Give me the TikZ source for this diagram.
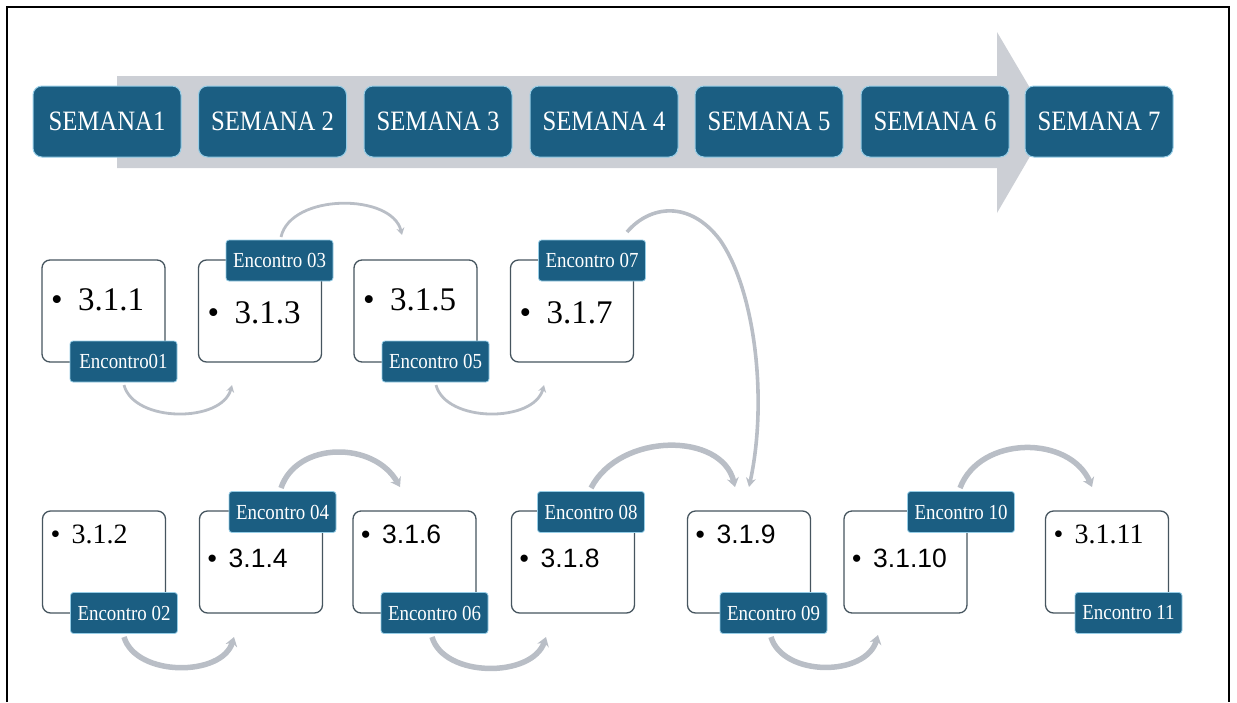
\documentclass[tikz,border=0pt]{standalone}
\usepackage{graphicx}
\usepackage{fontspec}
\setmainfont{Liberation Serif}
\setsansfont{Liberation Sans}
\usetikzlibrary{arrows.meta}
\definecolor{wkblue}{RGB}{27,94,130}
\definecolor{wkedge}{RGB}{150,205,230}
\definecolor{bandgray}{RGB}{204,207,213}
\definecolor{arcgray}{RGB}{185,190,198}
\definecolor{boxedge}{RGB}{70,85,95}
\newcommand{\tall}[1]{\scalebox{0.97}[1.1]{#1}}
\tikzset{
  week/.style={draw=wkedge, line width=1pt, fill=wkblue, rounded corners=9pt,
    minimum width=148pt, minimum height=71pt, inner sep=0pt, text=white,
    font=\fontsize{25.5}{30}\selectfont},
  topic/.style={draw=boxedge, line width=1.3pt, fill=white, rounded corners=8pt,
    minimum width=123pt, minimum height=102pt, inner sep=0pt},
  meet/.style={draw=wkedge, line width=0.8pt, fill=wkblue, rounded corners=3pt,
    minimum width=107pt, minimum height=41pt, inner sep=0pt, text=white,
    font=\fontsize{19.5}{22}\selectfont},
  bigitem/.style={anchor=base west, inner sep=0pt, font=\fontsize{33}{36}\selectfont},
  smallserif/.style={anchor=base west, inner sep=0pt, font=\fontsize{28}{32}\selectfont},
  smallsans/.style={anchor=base west, inner sep=0pt, font=\sffamily\fontsize{26.5}{30}\selectfont},
  thinarc/.style={draw=arcgray, line width=2.8pt, -{Stealth[length=7pt,width=8pt]}},
  midarc/.style={draw=arcgray, line width=3.6pt, -{Stealth[length=9pt,width=10pt]}},
  thickarc/.style={draw=arcgray, line width=5.5pt, -{Stealth[length=9pt,width=12pt]}},
}
\newcommand{\bigbul}[1]{\makebox[27pt][l]{•}#1}
\newcommand{\smallbul}[1]{\makebox[21pt][l]{•}#1}
\begin{document}
\begin{tikzpicture}[x=1pt,y=-1pt]
\useasboundingbox (0,0) rectangle (1237,702);
% frame
\draw[line width=1.2pt] (7,702) -- (7,7) -- (1229,7) -- (1229,702);
% big timeline arrow
\fill[bandgray] (117,76) -- (997,76) -- (997,32) -- (1050,122) -- (997,213)
  -- (997,168) -- (117,168) -- cycle;
% week boxes
\node[week] (w1) at (107,121.5) {\tall{SEMANA1}};
\node[week] (w2) at (272.5,121.5) {\tall{SEMANA 2}};
\node[week] (w3) at (438,121.5) {\tall{SEMANA 3}};
\node[week] (w4) at (604,121.5) {\tall{SEMANA 4}};
\node[week] (w5) at (769,121.5) {\tall{SEMANA 5}};
\node[week] (w6) at (935,121.5) {\tall{SEMANA 6}};
\node[week] (w7) at (1099,121.5) {\tall{SEMANA 7}};
% arc end points
\coordinate (aAs) at (124,385);  \coordinate (aAe) at (232,385);
\coordinate (aBs) at (281,237);  \coordinate (aBe) at (402,235);
\coordinate (aCs) at (436,385);  \coordinate (aCe) at (544,385);
\coordinate (aDs) at (627,232);  \coordinate (aDm) at (720,240); \coordinate (aDe) at (749,487);
\coordinate (aEs) at (124,637);  \coordinate (aEe) at (234,637);
\coordinate (aFs) at (281,488);  \coordinate (aFe) at (400,487);
\coordinate (aGs) at (432,637);  \coordinate (aGe) at (546,637);
\coordinate (aHs) at (591,488);  \coordinate (aHe) at (735,487);
\coordinate (aIs) at (771,637);  \coordinate (aIe) at (878,635);
\coordinate (aJs) at (960,488);  \coordinate (aJe) at (1092,487);
% arcs
\draw[thinarc] (aAs) .. controls (134,423) and (222,423) .. (aAe);
\draw[thinarc] (aBs) .. controls (291,193) and (392,193) .. (aBe);
\draw[thinarc] (aCs) .. controls (446,423) and (534,423) .. (aCe);
\draw[midarc] (aDs) .. controls (650,205) and (690,200) .. (aDm)
  .. controls (755,290) and (768,400) .. (aDe);
\draw[thickarc] (aEs) .. controls (136,677) and (222,677) .. (aEe);
\draw[thickarc] (aFs) .. controls (297,441) and (374,441) .. (aFe);
\draw[thickarc] (aGs) .. controls (444,678) and (532,678) .. (aGe);
\draw[thickarc] (aHs) .. controls (620,432) and (722,432) .. (aHe);
\draw[thickarc] (aIs) .. controls (783,677) and (866,677) .. (aIe);
\draw[thickarc] (aJs) .. controls (980,435) and (1070,435) .. (aJe);
% topic boxes
\node[topic] (b1) at (103.5,311) {};
\node[topic] (b3) at (260,311) {};
\node[topic] (b5) at (415.5,311) {};
\node[topic] (b7) at (572,311) {};
\node[topic] (b2) at (104,562) {};
\node[topic] (b4) at (261,562) {};
\node[topic] (b6) at (414.5,562) {};
\node[topic] (b8) at (573,562) {};
\node[topic] (b9) at (749,562) {};
\node[topic] (b10) at (905.5,562) {};
\node[topic] (b11) at (1107,562) {};
% topic texts
\node[bigitem] (t1) at (51,310) {\bigbul{3.1.1}};
\node[bigitem] (t3) at (207.5,323) {\bigbul{3.1.3}};
\node[bigitem] (t5) at (363,310) {\bigbul{3.1.5}};
\node[bigitem] (t7) at (519.5,323) {\bigbul{3.1.7}};
\node[smallserif] (t2) at (50.5,543) {\smallbul{3.1.2}};
\node[smallsans] (t4) at (207.5,567) {\smallbul{3.1.4}};
\node[smallsans] (t6) at (361,543) {\smallbul{3.1.6}};
\node[smallsans] (t8) at (519.5,567) {\smallbul{3.1.8}};
\node[smallsans] (t9) at (695.5,543) {\smallbul{3.1.9}};
\node[smallsans] (t10) at (852,567) {\smallbul{3.1.10}};
\node[smallserif] (t11) at (1053.5,543) {\smallbul{3.1.11}};
% meeting labels
\node[meet] (m01) at (123.5,361.5) {\tall{Encontro01}};
\node[meet] (m03) at (279.5,260.5) {\tall{Encontro 03}};
\node[meet] (m05) at (435.5,361.5) {\tall{Encontro 05}};
\node[meet] (m07) at (592,260.5) {\tall{Encontro 07}};
\node[meet] (m02) at (124,613) {\tall{Encontro 02}};
\node[meet] (m04) at (282.5,512) {\tall{Encontro 04}};
\node[meet] (m06) at (434.5,613) {\tall{Encontro 06}};
\node[meet] (m08) at (591,512) {\tall{Encontro 08}};
\node[meet] (m09) at (773.5,613) {\tall{Encontro 09}};
\node[meet] (m10) at (961,512) {\tall{Encontro 10}};
\node[meet] (m11) at (1128.5,613) {\tall{Encontro 11}};
\end{tikzpicture}
\end{document}
